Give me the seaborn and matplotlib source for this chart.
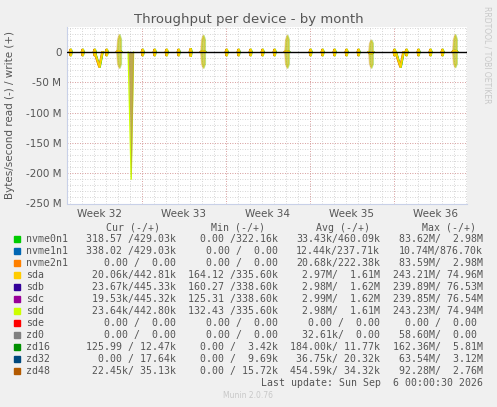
import matplotlib
matplotlib.use("Agg")
import matplotlib.pyplot as plt
import seaborn as sns
import numpy as np

sns.set_style("white")
plt.rcParams['font.family'] = ['DejaVu Sans']

# ---- data (units: M bytes/s, x in days from left edge) ----
small_days = [0.3, 1.3, 2.3, 3.3, 6.3, 7.3, 8.3, 9.3, 10.3, 13.3, 14.3, 15.3, 16.3, 17.3,
              20.3, 21.3, 22.3, 23.3, 24.3, 27.3, 28.3, 29.3, 30.3, 31.3]
small_write = [4, 4, 4, 4, 4, 4, 4, 4, 5, 4, 4, 4, 4, 4, 4, 4, 4, 4, 4, 4, 4, 4, 4, 4]
small_read = [-6, -6, -6, -6, -6, -6, -6, -6, -7, -6, -6, -6, -6, -6, -6, -6, -6, -6, -6, -6, -6, -6, -6, -6]
big_days = [4.33, 11.33, 18.33, 25.33, 32.33]
big_write = [29, 28, 28, 20, 29]
big_read = [-26, -26, -26, -26, -25]
dip_days = [2.7, 27.8]
dip_read = [-25, -25]
huge_day = 5.35
huge_read = -210
week_labels = ["Week 32", "Week 33", "Week 34", "Week 35", "Week 36"]
week_label_days = [2.75, 9.75, 16.75, 23.75, 30.75]
week_line_days = [6.25, 13.25, 20.25, 27.25]

devices = ["nvme0n1", "nvme1n1", "nvme2n1", "sda", "sdb", "sdc", "sdd", "sde", "zd0", "zd16", "zd32", "zd48"]
colors = ["#00CC00", "#0066B3", "#FF8000", "#FFCC00", "#330099", "#990099", "#CCFF00",
          "#FF0000", "#808080", "#008F00", "#00487D", "#B35A00"]
cur = ["318.57 /429.03k", "338.02 /429.03k", "  0.00 /  0.00", " 20.06k/442.81k", " 23.67k/445.33k",
       " 19.53k/445.32k", " 23.64k/442.80k", "  0.00 /  0.00", "  0.00 /  0.00", "125.99 / 12.47k",
       "  0.00 / 17.64k", " 22.45k/ 35.13k"]
mins = ["0.00 /322.16k", "0.00 /  0.00", "0.00 /  0.00", "164.12 /335.60k", "160.27 /338.60k",
        "125.31 /338.60k", "132.43 /335.60k", "0.00 /  0.00", "0.00 /  0.00", "0.00 /  3.42k",
        "0.00 /  9.69k", "0.00 / 15.72k"]
avgs = ["33.43k/460.09k", "12.44k/237.71k", "20.68k/222.38k", "2.97M/  1.61M", "2.98M/  1.62M",
        "2.99M/  1.62M", "2.98M/  1.61M", "0.00 /  0.00", "32.61k/  0.00", "184.00k/ 11.77k",
        "36.75k/ 20.32k", "454.59k/ 34.32k"]
maxs = ["83.62M/  2.98M", "10.74M/876.70k", "83.59M/  2.98M", "243.21M/ 74.96M", "239.89M/ 76.53M",
        "239.85M/ 76.54M", "243.23M/ 74.94M", "0.00 /  0.00 ", "58.60M/  0.00 ", "162.36M/  5.81M",
        "63.54M/  3.12M", "92.28M/  2.76M"]

W, H = 497, 407
fig = plt.figure(figsize=(W / 100, H / 100), dpi=100, facecolor="#F0F0F0")
ax = fig.add_axes([67 / W, 1 - 203.5 / H, 400 / W, (203.5 - 27) / H])
ax.set_facecolor("white")
XMAX = 33.35
ax.set_xlim(0, XMAX)
ax.set_ylim(-250, 41)

for d in np.arange(0.25, XMAX, 1.0):
    ax.axvline(d, color="#C8C8C8", lw=0.6, ls=(0, (1, 2)), zorder=0)
for d in week_line_days:
    ax.axvline(d, color="#E09090", lw=0.6, ls=(0, (1, 2)), zorder=0)
for y in range(-240, 41, 10):
    ax.axhline(y, color="#C8C8C8", lw=0.6, ls=(0, (1, 2)), zorder=0)
for y in [-200, -150, -100, -50]:
    ax.axhline(y, color="#E09090", lw=0.6, ls=(0, (1, 2)), zorder=0)

def spike(t, h, w):
    return [t - w, t, t + w], [0, h, 0]

main = [("zd16", "#008F00", 0.05), ("zd48", "#B35A00", -0.03), ("sdd", "#CCFF00", 0.03), ("sda", "#FFCC00", 0.0)]
for name, col, off in main:
    for t, hw, hr in zip(small_days, small_write, small_read):
        xs, ys = spike(t + off, hw, 0.06)
        sns.lineplot(x=xs, y=ys, color=col, lw=1.2, ax=ax, sort=False)
        xs, ys = spike(t + off, hr, 0.06)
        sns.lineplot(x=xs, y=ys, color=col, lw=1.2, ax=ax, sort=False)
    for t, hw, hr in zip(big_days, big_write, big_read):
        xs = [t - 0.2, t - 0.12, t, t + 0.12, t + 0.2, t + 0.12, t, t - 0.12, t - 0.2]
        ys = [0, hw * 0.75, hw, hw * 0.75, 0, hr * 0.75, hr, hr * 0.75, 0]
        sns.lineplot(x=[v + off for v in xs], y=ys, color=col, lw=1.2, ax=ax, sort=False)
    for t, hr in zip(dip_days, dip_read):
        xs = [t - 0.4, t - 0.25, t, t + 0.15, t + 0.25]
        ys = [0, hr * 0.4, hr, hr * 0.4, 0]
        sns.lineplot(x=[v + off for v in xs], y=ys, color=col, lw=1.2, ax=ax, sort=False)

hx = [huge_day - 0.25, huge_day, huge_day + 0.2]
ax.fill_between(hx, [0, huge_read, 0], 0, color="#B8A040", alpha=0.9, lw=0, zorder=3)
sns.lineplot(x=hx, y=[0, huge_read, 0], color="#CCFF00", lw=1, ax=ax, sort=False)
ax.axhline(0, color="black", lw=1, zorder=5)

ax.set_xticks(week_label_days)
ax.set_xticklabels(week_labels)
ax.set_yticks([-250, -200, -150, -100, -50, 0])
ax.set_yticklabels(["-250 M", "-200 M", "-150 M", "-100 M", "-50 M", "0"])
ax.tick_params(axis="both", length=0, labelsize=7.5, colors="#555555", pad=4)
for s in ax.spines.values():
    s.set_visible(False)
ax.spines["left"].set_visible(True)
ax.spines["bottom"].set_visible(True)
ax.spines["left"].set_color("#C8D0E8")
ax.spines["bottom"].set_color("#C8D0E8")

fig.text(0.5, 1 - 19 / H, "Throughput per device - by month", ha="center", va="center",
         fontsize=9.5, color="#555555")
fig.text(10 / W, 1 - 115 / H, "Bytes/second read (-) / write (+)", rotation=90, ha="center",
         va="center", fontsize=7.5, color="#555555")
fig.text(487 / W, 1 - 55 / H, "RRDTOOL / TOBI OETIKER", rotation=270, ha="center", va="center",
         fontsize=5.5, color="#C8C8C8")

mono = dict(family="DejaVu Sans Mono", fontsize=7.1, color="#555555", va="center")
hdr_y = 228
for txt, xr in [("Cur (-/+)", 160), ("Min (-/+)", 265), ("Avg (-/+)", 370), ("Max (-/+)", 476)]:
    fig.text(xr / W, 1 - hdr_y / H, txt, ha="right", **mono)
for i, dev in enumerate(devices):
    y = 1 - (239 + 12 * i) / H
    fig.patches.append(plt.Rectangle((14 / W, y - 3 / H), 6 / W, 6 / H, color=colors[i],
                                     transform=fig.transFigure, figure=fig))
    fig.text(26 / W, y, dev, ha="left", **mono)
    fig.text(176 / W, y, cur[i], ha="right", **mono)
    fig.text(278 / W, y, mins[i], ha="right", **mono)
    fig.text(380 / W, y, avgs[i], ha="right", **mono)
    fig.text(483 / W, y, maxs[i], ha="right", **mono)
fig.text(483 / W, 1 - 383 / H, "Last update: Sun Sep  6 00:00:30 2026", ha="right", **mono)
fig.text(248 / W, 1 - 396 / H, "Munin 2.0.76", ha="center", va="center", fontsize=5.5, color="#C8C8C8")

fig.savefig("out.png", dpi=100, facecolor=fig.get_facecolor())
